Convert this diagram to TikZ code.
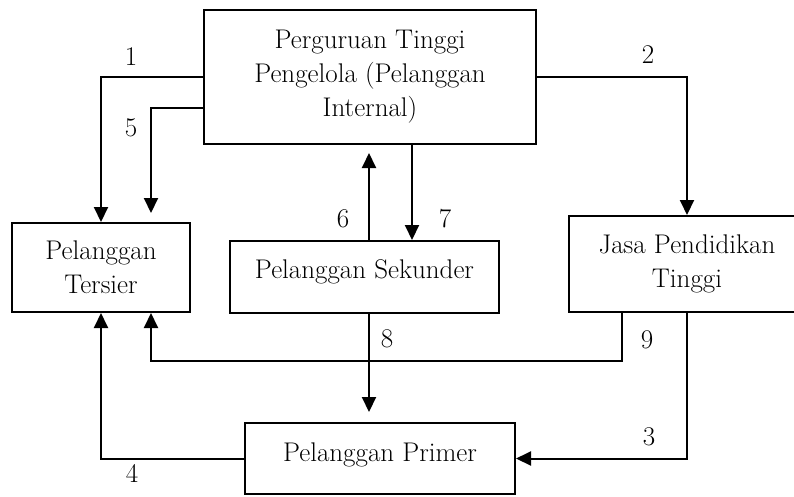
\documentclass[tikz,border=0pt]{standalone}
\usepackage{fontspec}
\usetikzlibrary{arrows.meta,calc}

\begin{document}
\begin{tikzpicture}[x=1pt,y=-1pt,line join=miter,>={Triangle[width=14pt,length=15pt]},
    box/.style={draw,line width=2pt,inner sep=4pt,align=center,font=\fontsize{27}{34}\selectfont},
    num/.style={font=\fontsize{27}{32}\selectfont},
    link/.style={line width=2pt,->}]
    \useasboundingbox (0,0) rectangle (794,496);
    % boxes
    \node[box,minimum width=332pt,minimum height=134pt] (pt) at (370,77) {Perguruan Tinggi\\Pengelola (Pelanggan\\Internal)};
    \node[box,minimum width=178pt,minimum height=89pt] (tersier) at (101,267.5) {Pelanggan\\Tersier};
    \node[box,minimum width=269pt,minimum height=72pt,text depth=16pt] (sekunder) at (364.5,277) {Pelanggan Sekunder};
    \node[box,minimum width=236pt,minimum height=96pt] (jasa) at (687,264) {Jasa Pendidikan\\Tinggi};
    \node[box,minimum width=270pt,minimum height=71pt,text depth=12pt] (primer) at (380,458.5) {Pelanggan Primer};
    % connectors
    \coordinate (c6) at ([xshift=4.5pt]sekunder.north);
    \coordinate (c7) at ([xshift=42pt]pt.south);
    \draw[link] (pt.west) -| (tersier.north);
    \draw[link] ([yshift=-31pt]pt.west) -| ([xshift=50pt,yshift=9pt]tersier.north);
    \draw[link] (pt.east) -| (jasa.north);
    \draw[link] (c6) -- ($(c6 |- pt.south)+(0,8)$);
    \draw[link] (c7) -- (c7 |- sekunder.north);
    \draw[link] (c6 |- sekunder.south) -- ($(c6 |- primer.north)+(0,-10)$);
    \draw[link] ([xshift=-65pt]jasa.south) -- ++(0,48) -| ([xshift=50pt]tersier.south);
    \draw[link] (jasa.south) |- (primer.east);
    \draw[link] (primer.west) -| (tersier.south);
    % numbers
    \node[num] (n1) at (131,57) {1};
    \node[num] (n2) at (648,55) {2};
    \node[num] (n3) at (649,437) {3};
    \node[num] (n4) at (132,473) {4};
    \node[num] (n5) at (131,128) {5};
    \node[num] (n6) at (343,219) {6};
    \node[num] (n7) at (445,219) {7};
    \node[num] (n8) at (387,339) {8};
    \node[num] (n9) at (647,340) {9};
\end{tikzpicture}
\end{document}
